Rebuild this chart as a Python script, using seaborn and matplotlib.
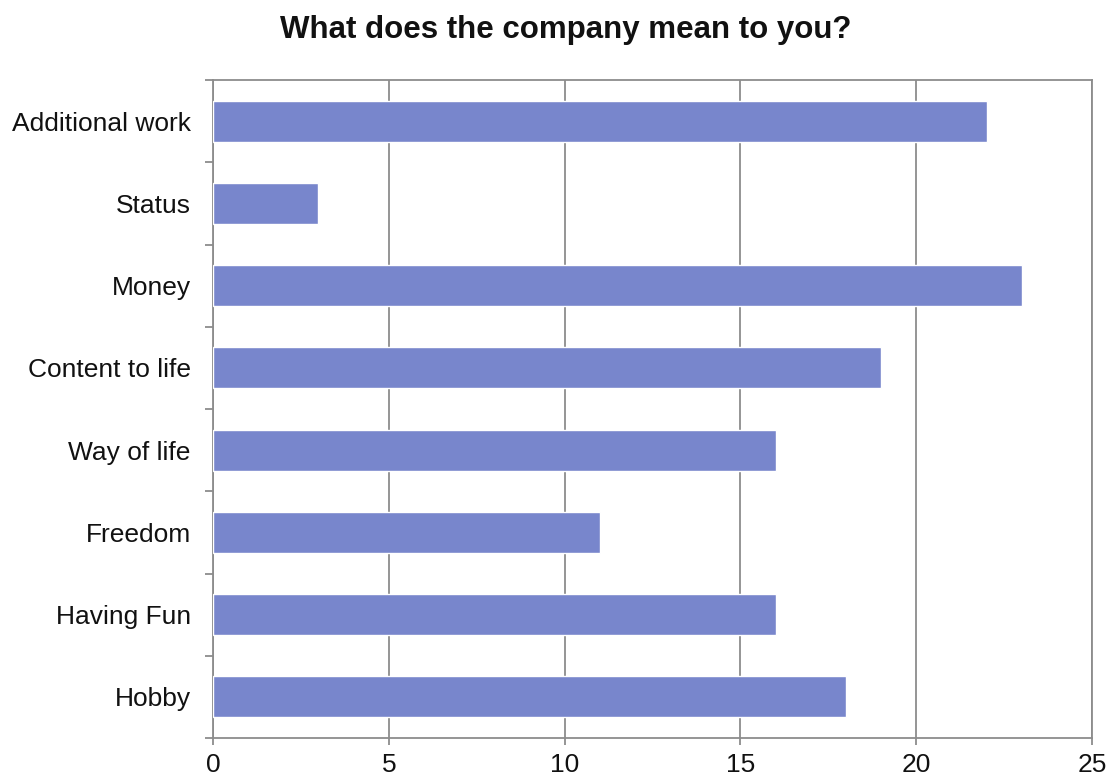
import matplotlib
matplotlib.use("Agg")
import matplotlib.pyplot as plt
import seaborn as sns
import pandas as pd
from matplotlib.ticker import FixedLocator

categories = ["Additional work", "Status", "Money", "Content to life",
              "Way of life", "Freedom", "Having Fun", "Hobby"]
counts = [22, 3, 23, 19, 16, 11, 16, 18]
x_ticks = [0, 5, 10, 15, 20, 25]

sns.set_theme(style="white")
plt.rcParams["font.family"] = ["Liberation Sans", "DejaVu Sans"]

df = pd.DataFrame({"answer": categories, "count": counts})

fig = plt.figure(figsize=(11.09, 7.78), dpi=100)
ax = fig.add_axes([213 / 1109, 1 - 738 / 778, (1092 - 213) / 1109, (738 - 80) / 778])

grid_col = "#8c8c8c"
sns.barplot(data=df, y="answer", x="count", orient="h", color="#7886cc",
            saturation=1, width=0.5, ax=ax, zorder=3)

ax.set_xlim(0, 25)
ax.set_ylim(len(categories) - 0.5, -0.5)
ax.set_xticks(x_ticks)
ax.set_xticklabels([str(t) for t in x_ticks], fontsize=19, color="#111111")
ax.tick_params(axis="y", which="major", left=True, length=0, labelsize=19,
               labelcolor="#111111", pad=16)
ax.yaxis.set_minor_locator(FixedLocator([i - 0.5 for i in range(len(categories) + 1)]))
ax.tick_params(axis="y", which="minor", left=True, length=6, width=1.3,
               color=grid_col, direction="out")
ax.tick_params(axis="x", which="major", bottom=True, length=5, width=1.3,
               color=grid_col, direction="out", pad=6)
ax.xaxis.grid(True, color=grid_col, linewidth=1.3, zorder=0)
ax.set_axisbelow(True)
for s in ax.spines.values():
    s.set_color(grid_col)
    s.set_linewidth(1.3)
ax.set_xlabel("")
ax.set_ylabel("")

fig.text(0.51, 1 - 30 / 778, "What does the company mean to you?", ha="center", va="center",
         fontsize=22.5, fontweight="bold", color="#111111")

fig.savefig("out.png", dpi=100)
